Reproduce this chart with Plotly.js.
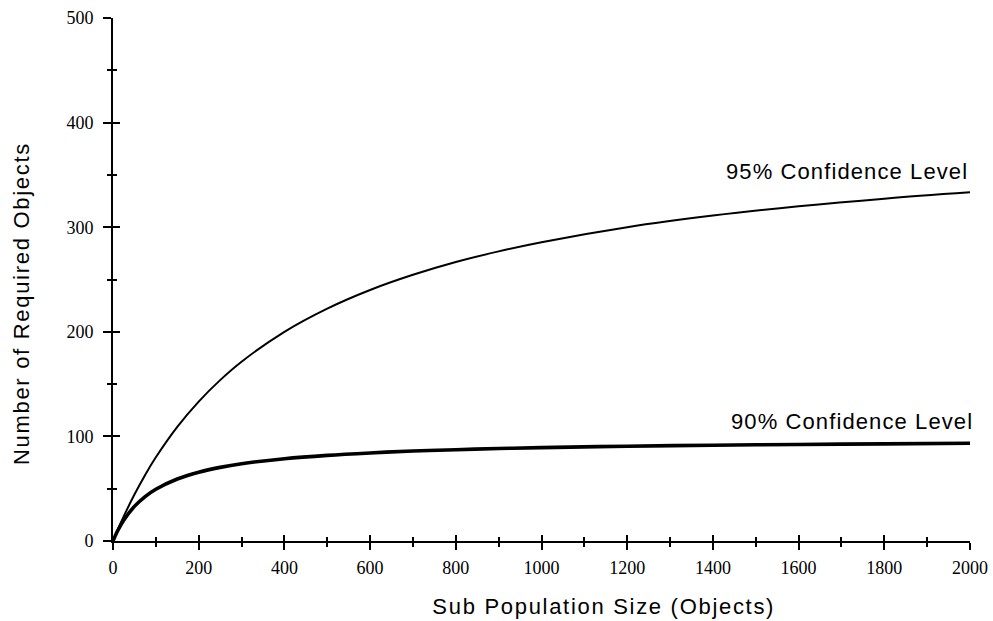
<!DOCTYPE html>
<html>
<head>
<meta charset="utf-8">
<script src="https://cdn.plot.ly/plotly-3.0.1.min.js"></script>
<style>
html,body{margin:0;padding:0;background:#fff;}
#chart{width:993px;height:621px;}
.annotation[data-index="0"] .annotation-text,
.annotation[data-index="1"] .annotation-text { letter-spacing: 1.1px; }
.annotation[data-index="2"] .annotation-text,
.annotation[data-index="3"] .annotation-text { letter-spacing: 1.7px; }
</style>
</head>
<body>
<div id="chart"></div>
<script>
// Sub population size (objects)
const popSize = [0, 10, 25, 50, 75, 100, 150, 200, 250, 300, 400, 500, 600, 700, 800, 900, 1000, 1200, 1400, 1600, 1800, 2000];
// Number of required objects, 95% confidence level
const req95 = [0, 9.8, 23.5, 44.4, 63.2, 80, 109.1, 133.3, 153.8, 171.4, 200, 222.2, 240, 254.5, 266.7, 276.9, 285.7, 300, 311.1, 320, 327.3, 333.3];
// Number of required objects, 90% confidence level
const req90 = [0, 9.1, 19.9, 33.1, 42.5, 49.5, 59.3, 65.8, 70.4, 73.9, 78.7, 81.9, 84.2, 86.0, 87.3, 88.4, 89.3, 90.6, 91.6, 92.3, 92.9, 93.4];
const seriesLabels = ["95% Confidence Level", "90% Confidence Level"];
const xTicks = [0, 200, 400, 600, 800, 1000, 1200, 1400, 1600, 1800, 2000];
const yTicks = [0, 100, 200, 300, 400, 500];
const xTitle = "Sub Population Size (Objects)";
const yTitle = "Number of Required Objects";

const traces = [
  {x: popSize, y: req95, mode: 'lines', line: {color: '#000', width: 2, shape: 'spline', smoothing: 1}, hoverinfo: 'skip', xaxis: 'x', yaxis: 'y'},
  {x: popSize, y: req90, mode: 'lines', line: {color: '#000', width: 3.6, shape: 'spline', smoothing: 1}, hoverinfo: 'skip', xaxis: 'x', yaxis: 'y'},
  // invisible trace to activate overlay axes (inside ticks so ticks cross the axis lines)
  {x: [0], y: [0], mode: 'markers', marker: {opacity: 0}, hoverinfo: 'skip', xaxis: 'x2', yaxis: 'y2'}
];

const tickFont = {family: 'Liberation Serif, Times New Roman, serif', size: 18, color: '#000'};
const titleFont = {family: 'Liberation Sans, Arial, sans-serif', size: 22, color: '#000'};

// plot area in pixels: x 113..970, y 18..541
const PW = 857, PH = 523;

const layout = {
  width: 993, height: 621,
  margin: {l: 113, r: 23, t: 18, b: 80},
  paper_bgcolor: '#fff', plot_bgcolor: '#fff',
  showlegend: false,
  xaxis: {
    range: [0, 2000], tickvals: xTicks, ticktext: xTicks.map(String),
    showgrid: false, zeroline: false, showline: true, linecolor: '#000', linewidth: 2,
    ticks: 'outside', ticklen: 7, tickwidth: 2, tickcolor: '#000',
    minor: {dtick: 100, tick0: 0, ticks: 'outside', ticklen: 4, tickwidth: 2, tickcolor: '#000', showgrid: false},
    tickfont: tickFont, ticklabelstandoff: 2
  },
  yaxis: {
    range: [0, 500], tickvals: yTicks, ticktext: yTicks.map(String),
    showgrid: false, zeroline: false, showline: true, linecolor: '#000', linewidth: 2,
    ticks: 'outside', ticklen: 8, tickwidth: 2, tickcolor: '#000',
    minor: {dtick: 50, tick0: 0, ticks: 'outside', ticklen: 4, tickwidth: 2, tickcolor: '#000', showgrid: false},
    tickfont: tickFont, ticklabelstandoff: 6
  },
  xaxis2: {
    overlaying: 'x', anchor: 'y', range: [0, 2000], tickvals: xTicks, showticklabels: false,
    showgrid: false, zeroline: false, showline: false,
    ticks: 'inside', ticklen: 6, tickwidth: 2, tickcolor: '#000',
    minor: {dtick: 100, tick0: 0, ticks: 'inside', ticklen: 4, tickwidth: 2, tickcolor: '#000', showgrid: false}
  },
  yaxis2: {
    overlaying: 'y', anchor: 'x', side: 'left', range: [0, 500], tickvals: yTicks, showticklabels: false,
    showgrid: false, zeroline: false, showline: false,
    ticks: 'inside', ticklen: 7, tickwidth: 2, tickcolor: '#000',
    minor: {dtick: 50, tick0: 0, ticks: 'inside', ticklen: 4, tickwidth: 2, tickcolor: '#000', showgrid: false}
  },
  annotations: [
    {x: 2000, y: 353, xref: 'x', yref: 'y', xanchor: 'right', yanchor: 'middle', showarrow: false, xshift: -11,
     text: seriesLabels[0], font: titleFont},
    {x: 2000, y: 114, xref: 'x', yref: 'y', xanchor: 'right', yanchor: 'middle', showarrow: false, xshift: -6,
     text: seriesLabels[1], font: titleFont},
    // axis titles (placed as in the reference, off-centre)
    {x: (604 - 113) / PW, y: (541 - 606) / PH, xref: 'paper', yref: 'paper', xanchor: 'center', yanchor: 'middle', showarrow: false,
     text: xTitle, font: titleFont},
    {x: (21 - 113) / PW, y: (541 - 304) / PH, xref: 'paper', yref: 'paper', xanchor: 'center', yanchor: 'middle', showarrow: false,
     textangle: -90, text: yTitle, font: titleFont}
  ]
};

Plotly.newPlot('chart', traces, layout, {displayModeBar: false, staticPlot: true});
</script>
</body>
</html>
